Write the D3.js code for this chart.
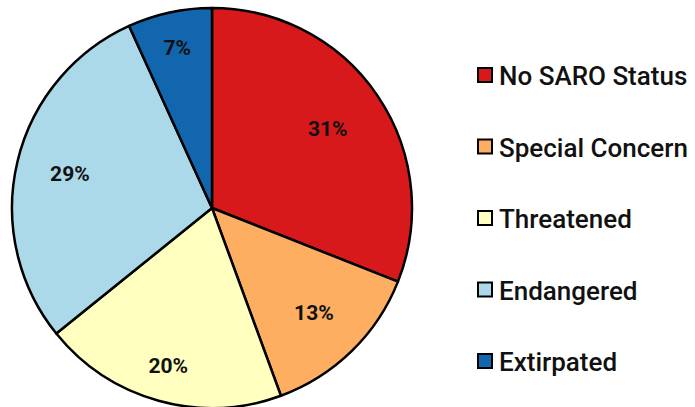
<!DOCTYPE html>
<html>
<head>
<meta charset="utf-8">
<script src="https://cdn.jsdelivr.net/npm/d3@7"></script>
<style>
html,body{margin:0;padding:0;background:#fff;}
svg{display:block;}
</style>
</head>
<body>
<svg id="chart" width="695" height="407"></svg>
<script>
const categories = ["No SARO Status", "Special Concern", "Threatened", "Endangered", "Extirpated"];
const values = [31, 13.4, 19.8, 29, 6.8];
const labels = ["31%", "13%", "20%", "29%", "7%"];
const colors = ["#d7191c", "#fdae61", "#ffffbf", "#abd9e9", "#1166ad"];

const svg = d3.select("#chart");
const cx = 212, cy = 208, R = 200;
const font = "Roboto, 'DejaVu Sans', sans-serif";

const pie = d3.pie().sort(null).value(d => d)(values);
const arc = d3.arc().innerRadius(0).outerRadius(R);
const labelFrac = [0.70, 0.73, 0.82, 0.73, 0.82];

const g = svg.append("g").attr("transform", `translate(${cx},${cy})`);
g.selectAll("path.slice").data(pie).join("path")
  .attr("class", "slice")
  .attr("d", arc)
  .attr("fill", (d, i) => colors[i])
  .attr("stroke", "#000")
  .attr("stroke-width", 2.5)
  .attr("stroke-linejoin", "round");

g.selectAll("text.lbl").data(pie).join("text")
  .attr("class", "lbl")
  .attr("transform", (d, i) => {
    const r = R * labelFrac[i];
    const a = d3.arc().innerRadius(r).outerRadius(r);
    const [x, y] = a.centroid(d);
    return `translate(${x},${y})`;
  })
  .attr("text-anchor", "middle")
  .attr("dominant-baseline", "central")
  .attr("font-family", font)
  .attr("font-weight", 700)
  .attr("font-size", 21)
  .attr("fill", "#111")
  .text((d, i) => labels[i]);

const y = d3.scalePoint().domain(categories).range([75, 361]);
const leg = svg.append("g");
const items = leg.selectAll("g").data(categories).join("g")
  .attr("transform", d => `translate(477,${y(d)})`);
items.append("rect")
  .attr("x", 1).attr("y", -7).attr("width", 14).attr("height", 14)
  .attr("fill", (d, i) => colors[i])
  .attr("stroke", "#000").attr("stroke-width", 2);
items.append("text")
  .attr("x", 22).attr("y", 1)
  .attr("dominant-baseline", "central")
  .attr("font-family", font)
  .attr("font-weight", 500)
  .attr("font-size", 26)
  .attr("fill", "#111")
  .text(d => d);
</script>
</body>
</html>
